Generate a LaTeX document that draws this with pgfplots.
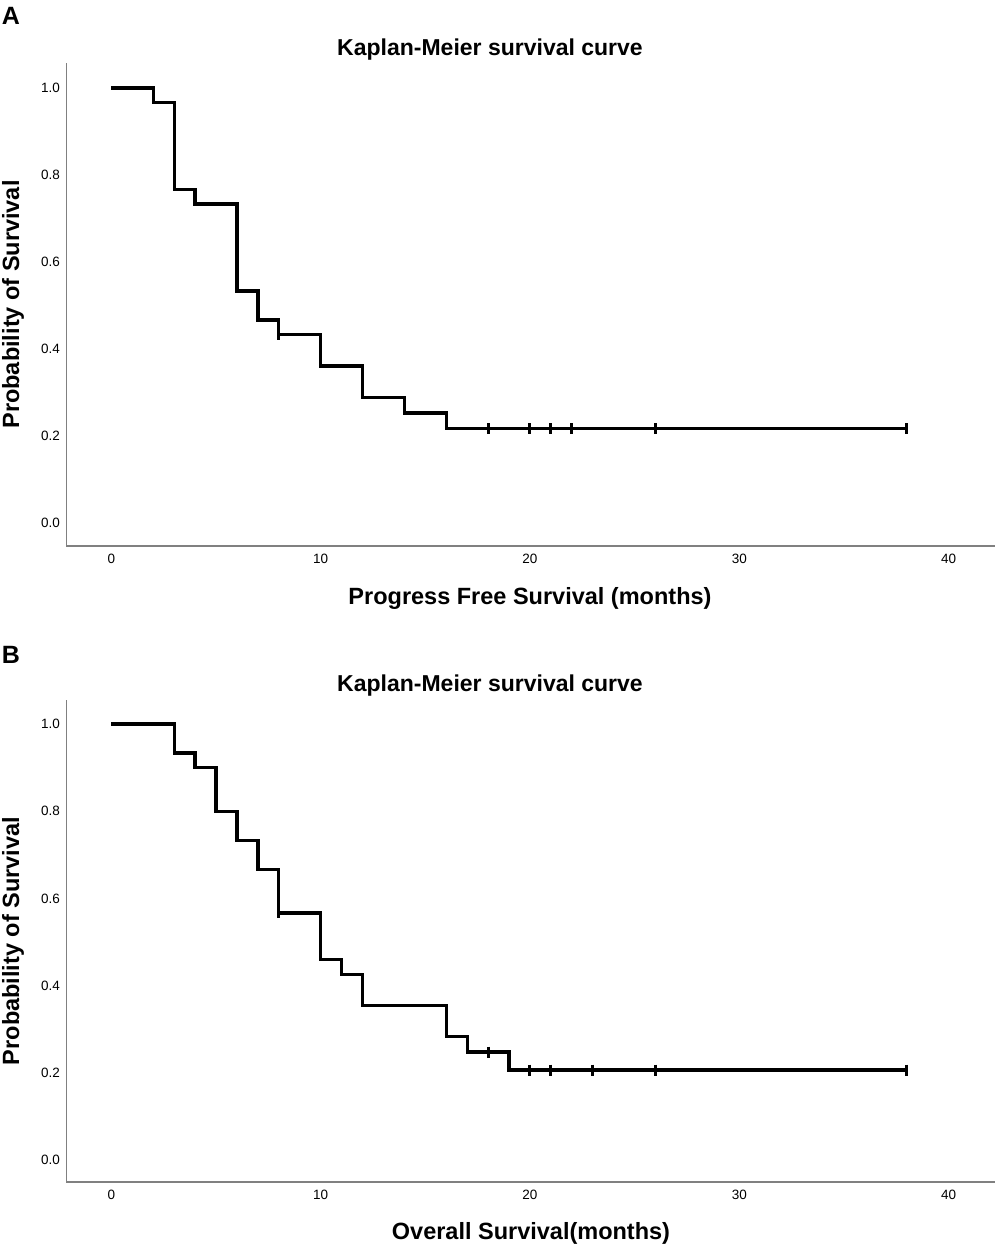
\documentclass[border=0pt]{standalone}
\usepackage{fontspec}
\setmainfont{Liberation Sans}
\usepackage{pgfplots}
\pgfplotsset{compat=1.18}

\pgfplotstableread{
x y
0 1.0000
2 0.9667
3 0.7667
4 0.7333
6 0.5333
7 0.4667
8 0.4333
10 0.3611
12 0.2889
14 0.2528
16 0.2167
38 0.2167
}\pfs
\pgfplotstableread{
x y
8 0.4333
18 0.2167
20 0.2167
21 0.2167
22 0.2167
26 0.2167
38 0.2167
}\pfscens
\pgfplotstableread{
x y
0 1.0000
3 0.9333
4 0.9000
5 0.8000
6 0.7333
7 0.6667
8 0.5667
10 0.4604
11 0.4250
12 0.3542
16 0.2833
17 0.2479
19 0.2066
38 0.2066
}\os
\pgfplotstableread{
x y
8 0.5667
18 0.2479
20 0.2066
21 0.2066
23 0.2066
26 0.2066
38 0.2066
}\oscens

\pgfplotsset{kmstyle/.style={
  scale only axis, width=929pt,
  axis x line=bottom, axis y line=left,
  x axis line style={draw=black!50, line width=1.6pt, -},
  y axis line style={draw=black!50, line width=0.9pt, -},
  xmin=-2.17, xmax=42.22,
  xtick={0,10,20,30,40}, ytick={0,0.2,0.4,0.6,0.8,1.0},
  major tick length=0pt,
  tick label style={font=\fontsize{13.5}{14}\selectfont},
  /pgf/number format/assume math mode=true,
  yticklabel style={/pgf/number format/fixed, /pgf/number format/fixed zerofill, /pgf/number format/precision=1, xshift=-2.5pt},
  xticklabel style={yshift=-5pt},
  clip=false,
  anchor=south west,
}}

\begin{document}
\begin{tikzpicture}[x=1pt,y=1pt]
\path[use as bounding box] (0,0) rectangle (996,1249);

% Panel A
\begin{axis}[kmstyle, at={(66pt,703pt)}, height=483pt, ymin=-0.053, ymax=1.0575]
\addplot[const plot, black, line width=3.3pt, line join=miter] table[x=x,y=y] {\pfs};
\addplot[only marks, mark=|, mark size=5.5pt, line width=3pt, black] table[x=x,y=y] {\pfscens};
\end{axis}

% Panel B
\begin{axis}[kmstyle, at={(66pt,67pt)}, height=482pt, ymin=-0.050, ymax=1.055]
\addplot[const plot, black, line width=3.3pt, line join=miter] table[x=x,y=y] {\os};
\addplot[only marks, mark=|, mark size=5.5pt, line width=3pt, black] table[x=x,y=y] {\oscens};
\end{axis}

% Texts
\node[font=\fontsize{25}{25}\selectfont\bfseries] at (11,1233) {A};
\node[font=\fontsize{25}{25}\selectfont\bfseries] at (11,594) {B};
\node[font=\fontsize{23}{23}\selectfont\bfseries] at (490,1199) {Kaplan-Meier survival curve};
\node[font=\fontsize{23}{23}\selectfont\bfseries] at (490,563) {Kaplan-Meier survival curve};
\node[font=\fontsize{23.5}{23.5}\selectfont\bfseries] at (530,651) {Progress Free Survival (months)};
\node[font=\fontsize{23.5}{23.5}\selectfont\bfseries] at (531,16) {Overall Survival(months)};
\node[font=\fontsize{23.5}{23.5}\selectfont\bfseries, rotate=90] at (13,944.5) {Probability of Survival};
\node[font=\fontsize{23.5}{23.5}\selectfont\bfseries, rotate=90] at (13,308) {Probability of Survival};
\end{tikzpicture}
\end{document}
